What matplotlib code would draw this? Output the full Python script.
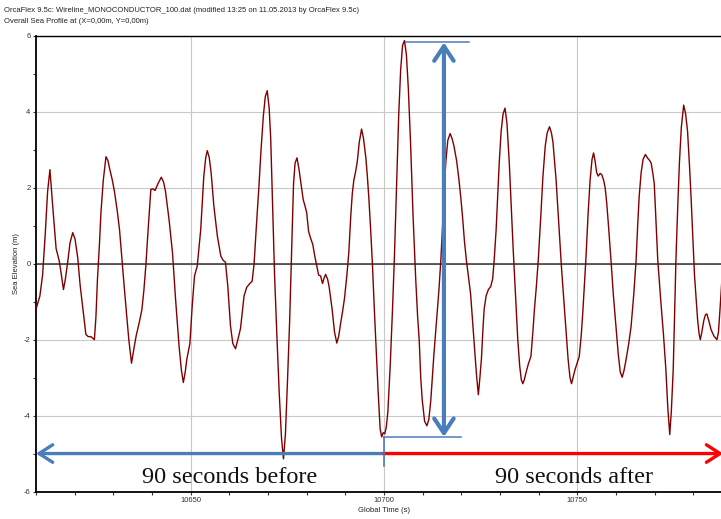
import numpy as np
import matplotlib
matplotlib.use("Agg")
import matplotlib.pyplot as plt
from matplotlib.ticker import MultipleLocator

# sea elevation time history
time_s = [
    10610.0, 10611.0, 10611.7, 10612.4, 10613.0, 10613.6, 10614.3, 10615.2, 10616.0, 10616.5,
    10617.1, 10617.6, 10618.2, 10618.8, 10619.5, 10620.1, 10620.8, 10621.4, 10622.1, 10622.9,
    10623.5, 10624.2, 10625.1, 10625.5, 10625.9, 10626.4, 10626.8, 10627.4, 10628.1, 10628.6,
    10629.1, 10629.7, 10630.3, 10631.0, 10631.6, 10632.2, 10632.8, 10633.4, 10634.0, 10634.7,
    10635.3, 10635.9, 10636.7, 10637.4, 10637.9, 10638.4, 10639.0, 10639.7, 10640.3, 10640.8,
    10641.5, 10642.4, 10643.0, 10643.5, 10644.0, 10644.4, 10645.3, 10646.1, 10647.0, 10647.6,
    10648.1, 10648.6, 10649.0, 10649.8, 10650.4, 10651.0, 10651.7, 10652.6, 10653.4, 10653.9,
    10654.3, 10654.8, 10655.3, 10656.0, 10656.9, 10657.8, 10658.4, 10659.0, 10659.6, 10660.3,
    10660.9, 10661.6, 10662.2, 10662.9, 10663.8, 10664.5, 10665.3, 10665.9, 10666.4, 10667.0,
    10667.6, 10668.2, 10668.8, 10669.3, 10669.8, 10670.3, 10670.7, 10671.2, 10671.7, 10672.3,
    10672.9, 10673.5, 10674.0, 10674.5, 10675.0, 10675.6, 10676.1, 10676.6, 10677.0, 10677.5,
    10678.0, 10678.4, 10679.1, 10679.5, 10680.0, 10680.5, 10681.0, 10681.6, 10682.1, 10682.6,
    10683.1, 10683.6, 10684.1, 10684.5, 10684.9, 10685.4, 10685.8, 10686.6, 10687.2, 10687.8,
    10688.3, 10688.8, 10689.3, 10689.8, 10690.4, 10690.9, 10691.4, 10691.8, 10692.2, 10692.7,
    10693.1, 10693.6, 10694.2, 10694.7, 10695.3, 10695.7, 10696.1, 10696.6, 10697.0, 10697.5,
    10698.0, 10698.5, 10699.0, 10699.4, 10699.8, 10700.2, 10700.6, 10701.0, 10701.6, 10702.2,
    10702.7, 10703.3, 10703.8, 10704.3, 10704.8, 10705.3, 10705.8, 10706.3, 10706.9, 10707.5,
    10708.2, 10708.7, 10709.1, 10709.5, 10709.9, 10710.5, 10711.1, 10711.6, 10712.1, 10712.5,
    10712.9, 10713.6, 10714.2, 10714.7, 10715.1, 10715.6, 10716.0, 10716.5, 10717.1, 10717.6,
    10718.1, 10718.8, 10719.4, 10719.9, 10720.3, 10720.8, 10721.3, 10721.8, 10722.4, 10722.9,
    10723.3, 10723.9, 10724.4, 10724.8, 10725.2, 10725.6, 10725.9, 10726.4, 10727.0, 10727.6,
    10728.1, 10728.5, 10729.0, 10729.4, 10729.8, 10730.3, 10730.8, 10731.3, 10731.8, 10732.4,
    10732.9, 10733.4, 10733.8, 10734.2, 10734.6, 10735.1, 10735.5, 10735.9, 10736.3, 10736.7,
    10737.3, 10738.0, 10738.5, 10738.9, 10739.4, 10739.9, 10740.6, 10741.1, 10741.7, 10742.2,
    10742.8, 10743.3, 10743.7, 10744.5, 10745.3, 10745.9, 10746.4, 10747.1, 10747.6, 10748.1,
    10748.5, 10749.0, 10749.4, 10750.0, 10750.5, 10751.0, 10751.4, 10751.8, 10752.2, 10752.8,
    10753.3, 10753.8, 10754.2, 10754.6, 10755.0, 10755.4, 10755.9, 10756.3, 10756.8, 10757.2,
    10757.6, 10758.0, 10758.7, 10759.3, 10760.0, 10760.6, 10761.1, 10761.6, 10762.1, 10762.6,
    10763.3, 10763.9, 10764.6, 10765.2, 10765.6, 10766.0, 10766.5, 10767.0, 10767.6, 10768.2,
    10768.7, 10769.1, 10769.5, 10769.9, 10770.3, 10770.8, 10771.6, 10772.3, 10772.9, 10773.4,
    10773.9, 10774.3, 10774.8, 10775.2, 10775.5, 10776.0, 10776.4, 10776.9, 10777.5, 10778.0,
    10778.5, 10779.0, 10779.4, 10779.9, 10780.3, 10780.7, 10781.1, 10781.5, 10781.8, 10782.2,
    10782.7, 10783.1, 10783.5, 10784.0, 10784.6, 10785.3, 10786.1, 10786.5, 10786.9, 10787.4,
]
elevation_m = [
    -1.20, -0.85, -0.30, 0.80, 1.90, 2.48, 1.55, 0.40, 0.08, -0.25,
    -0.68, -0.40, 0.05, 0.55, 0.82, 0.65, 0.15, -0.55, -1.15, -1.86,
    -1.92, -1.92, -2.00, -1.40, -0.40, 0.50, 1.35, 2.20, 2.82, 2.72,
    2.48, 2.22, 1.90, 1.40, 0.90, 0.15, -0.59, -1.30, -2.00, -2.62,
    -2.25, -1.90, -1.55, -1.20, -0.70, -0.06, 0.90, 1.96, 1.97, 1.93,
    2.10, 2.28, 2.15, 1.90, 1.50, 1.17, 0.29, -0.94, -2.17, -2.80,
    -3.13, -2.85, -2.52, -2.10, -1.11, -0.32, -0.06, 0.90, 2.31, 2.80,
    2.98, 2.80, 2.39, 1.52, 0.73, 0.20, 0.09, 0.04, -0.59, -1.64,
    -2.10, -2.24, -2.00, -1.70, -0.85, -0.62, -0.52, -0.46, 0.00, 1.00,
    1.95, 3.00, 3.90, 4.40, 4.56, 4.10, 3.30, 1.50, -0.30, -1.90,
    -3.40, -4.60, -5.14, -4.50, -3.20, -1.50, 0.30, 2.10, 2.65, 2.79,
    2.50, 2.20, 1.69, 1.55, 1.35, 0.85, 0.68, 0.50, 0.20, -0.05,
    -0.30, -0.32, -0.52, -0.38, -0.28, -0.40, -0.60, -1.21, -1.80, -2.09,
    -1.90, -1.56, -1.25, -0.90, -0.30, 0.30, 1.25, 1.85, 2.20, 2.45,
    2.70, 3.20, 3.55, 3.30, 2.80, 2.30, 1.70, 0.80, 0.00, -1.20,
    -2.30, -3.40, -4.35, -4.56, -4.45, -4.48, -4.30, -3.90, -2.70, -1.20,
    0.20, 2.20, 3.90, 5.10, 5.75, 5.88, 5.50, 4.60, 3.10, 1.30,
    -0.40, -1.40, -2.00, -3.00, -3.60, -4.15, -4.27, -4.10, -3.60, -3.00,
    -2.40, -1.50, -0.70, 0.10, 0.90, 2.00, 2.70, 3.25, 3.43, 3.30,
    3.10, 2.70, 2.20, 1.70, 1.25, 0.60, 0.10, -0.30, -0.80, -1.50,
    -2.10, -2.90, -3.45, -3.00, -2.50, -1.70, -1.20, -0.85, -0.68, -0.60,
    -0.40, 0.10, 0.90, 1.80, 2.66, 3.50, 3.95, 4.10, 3.70, 2.66,
    1.50, 0.40, -0.40, -1.20, -2.00, -2.70, -3.05, -3.16, -3.05, -2.88,
    -2.65, -2.44, -1.80, -1.21, -0.60, 0.10, 1.34, 2.30, 3.10, 3.45,
    3.61, 3.45, 3.20, 2.22, 0.90, -0.10, -0.80, -1.82, -2.50, -3.00,
    -3.16, -2.95, -2.79, -2.60, -2.44, -1.90, -1.30, -0.60, 0.10, 1.34,
    2.20, 2.75, 2.92, 2.70, 2.40, 2.31, 2.38, 2.35, 2.20, 2.00,
    1.60, 1.08, 0.10, -0.80, -1.65, -2.40, -2.85, -2.99, -2.80, -2.53,
    -2.10, -1.65, -0.80, 0.10, 1.00, 1.78, 2.40, 2.75, 2.88, 2.78,
    2.72, 2.65, 2.40, 2.10, 1.20, 0.10, -1.00, -1.90, -2.79, -3.80,
    -4.50, -3.90, -2.79, -1.20, 0.10, 1.60, 2.66, 3.60, 4.18, 3.95,
    3.50, 2.60, 1.78, 0.60, -0.30, -0.90, -1.47, -1.85, -2.00, -1.80,
    -1.50, -1.35, -1.32, -1.50, -1.74, -1.90, -2.00, -1.80, -1.20, -0.40,
]

split_time = 10700.0
window_s = 90.0
arrow_level = -5.0
text_level = -5.77
crest_arrow_time = 10715.5

t = np.array(time_s)
eta = np.array(elevation_m)
i_crest = int(np.argmax(eta))
crest = eta[i_crest]
near_split = (t > split_time - 2) & (t < split_time + 2)
trough = eta[near_split].min()

plt.rcParams['axes.unicode_minus'] = False
sans = ['Liberation Sans', 'DejaVu Sans']
fig = plt.figure(figsize=(7.21, 5.19), dpi=100)
# axes run past the right edge, like the cropped original
ax = fig.add_axes([36 / 721, 1 - 491.5 / 519, 696 / 721, 455.5 / 519])

ax.plot(t, eta, color='#800000', lw=1.0, zorder=3)
ax.set_xlim(split_time - window_s, split_time + window_s)
ax.set_ylim(-6, 6)

ax.xaxis.set_major_locator(MultipleLocator(50))
ax.xaxis.set_minor_locator(MultipleLocator(10))
ax.yaxis.set_major_locator(MultipleLocator(2))
ax.yaxis.set_minor_locator(MultipleLocator(1))
ax.tick_params(which='both', direction='out', length=2.5, width=0.8, color='#333333',
               labelsize=5.5, labelcolor='#333333', pad=1.5)
for lab in ax.get_xticklabels() + ax.get_yticklabels():
    lab.set_family(sans)

ax.set_axisbelow(True)
ax.grid(which='major', color='#c8c8c8', lw=0.8)
ax.axhline(0, color='#333333', lw=1.1, zorder=2)
ax.spines['right'].set_visible(False)
ax.spines['top'].set_linewidth(1.0)
ax.spines['left'].set_linewidth(1.3)
ax.spines['bottom'].set_linewidth(1.3)

fig.text(4 / 721, 1 - 10.5 / 519,
         "OrcaFlex 9.5c: Wireline_MONOCONDUCTOR_100.dat (modified 13:25 on 11.05.2013 by OrcaFlex 9.5c)",
         fontsize=5.5, family=sans, va='center', ha='left', color='#222222')
fig.text(4 / 721, 1 - 21.5 / 519, "Overall Sea Profile at (X=0,00m, Y=0,00m)",
         fontsize=5.5, family=sans, va='center', ha='left', color='#222222')
fig.text(16 / 721, 1 - 264 / 519, "Sea Elevation (m)", rotation=90, fontsize=5.5,
         family=sans, va='center', ha='center', color='#222222')
fig.text(384 / 721, 1 - 510 / 519, "Global Time (s)", fontsize=5.5,
         family=sans, va='center', ha='center', color='#222222')

blue = '#4a7ebb'
# before / after arrows
ax.annotate('', xy=(split_time - window_s, arrow_level), xytext=(split_time, arrow_level),
            arrowprops=dict(arrowstyle='->,head_length=0.7,head_width=0.45', color=blue,
                            lw=2.4, mutation_scale=14, shrinkA=0, shrinkB=0), zorder=5)
ax.annotate('', xy=(split_time + window_s - 2.3, arrow_level), xytext=(split_time, arrow_level),
            arrowprops=dict(arrowstyle='->,head_length=0.7,head_width=0.45', color='#ff0000',
                            lw=2.4, mutation_scale=14, shrinkA=0, shrinkB=0), zorder=5)
ax.plot([split_time, split_time], [trough, -5.34], color=blue, lw=1.2, zorder=5)

# wave height markers
ax.plot([t[i_crest] + 0.5, 10721.9], [crest - 0.05, crest - 0.05], color=blue, lw=1.1, zorder=5)
ax.plot([split_time, 10720.0], [trough, trough], color=blue, lw=1.1, zorder=5)
ax.annotate('', xy=(crest_arrow_time, crest - 0.05), xytext=(crest_arrow_time, trough),
            arrowprops=dict(arrowstyle='<->,head_length=0.75,head_width=0.5', color=blue,
                            lw=3.0, mutation_scale=14, shrinkA=0, shrinkB=0), zorder=5)

serif = ['Liberation Serif', 'DejaVu Serif']
ax.text(10660.0, text_level, "90 seconds before", fontsize=17.5, family=serif,
        ha='center', va='baseline', color='#111111', zorder=6)
ax.text(10749.2, text_level, "90 seconds after", fontsize=17.5, family=serif,
        ha='center', va='baseline', color='#111111', zorder=6)

fig.savefig("out.png", dpi=100)
